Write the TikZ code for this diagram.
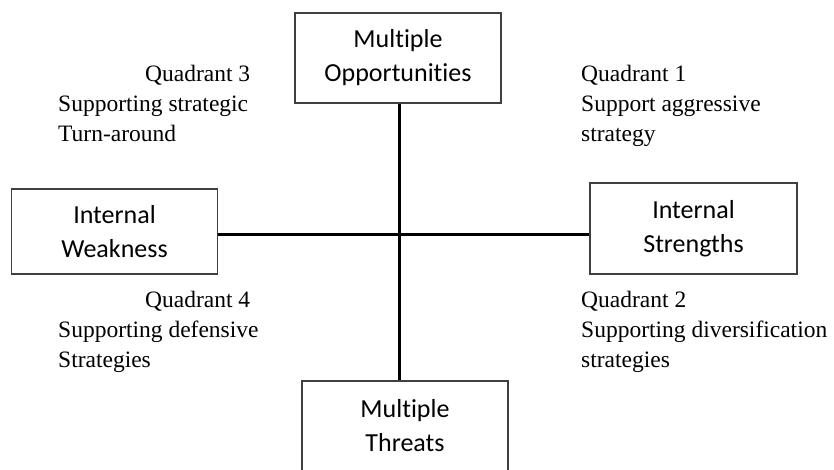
\documentclass[tikz,border=0pt]{standalone}
\usepackage{fontspec}
\setmainfont{Liberation Serif}
\newfontfamily\boxfont[Ligatures=NoCommon]{Carlito}
\usetikzlibrary{shapes}
\usetikzlibrary{arrows}

\tikzset{
  factor/.style={draw=black!75, line width=1.2pt, align=center, inner sep=0pt,
    minimum width=206pt, minimum height=90pt, font=\boxfont\fontsize{26}{34}\selectfont},
  quad/.style={anchor=base west, align=left, inner sep=0pt, font=\fontsize{23.5}{30}\selectfont},
  axis/.style={line width=3pt}
}

\begin{document}
\begin{tikzpicture}[x=1pt, y=-1pt]
\useasboundingbox (0,0) rectangle (834,470);
% the four factor boxes
\node[factor] (opp) at (398,58) {Multiple\\Opportunities};
\node[factor, minimum height=85pt] (weak) at (114.5,231.5) {Internal\\Weakness};
\node[factor, minimum width=207pt, minimum height=91pt] (str) at (693.5,228.5) {Internal\\Strengths};
\node[factor] (thr) at (405,426) {Multiple\\Threats};
% cross
\coordinate (mid) at (399.5,234);
\draw[axis] (mid |- opp.south) -- (mid |- thr.north);
\draw[axis] (weak.east |- mid) -- (str.west |- mid);
% quadrant labels (base = last line)
\node[quad] (q1) at (581,142) {Quadrant 1\\Support aggressive\\strategy};
\node[quad] (q2) at (581,367) {Quadrant 2\\Supporting diversification\\strategies};
\node[quad] (q3) at (58,142) {\hspace*{87pt}Quadrant 3\\Supporting strategic\\Turn-around};
\node[quad] (q4) at (58,367) {\hspace*{87pt}Quadrant 4\\Supporting defensive\\Strategies};
\end{tikzpicture}
\end{document}
